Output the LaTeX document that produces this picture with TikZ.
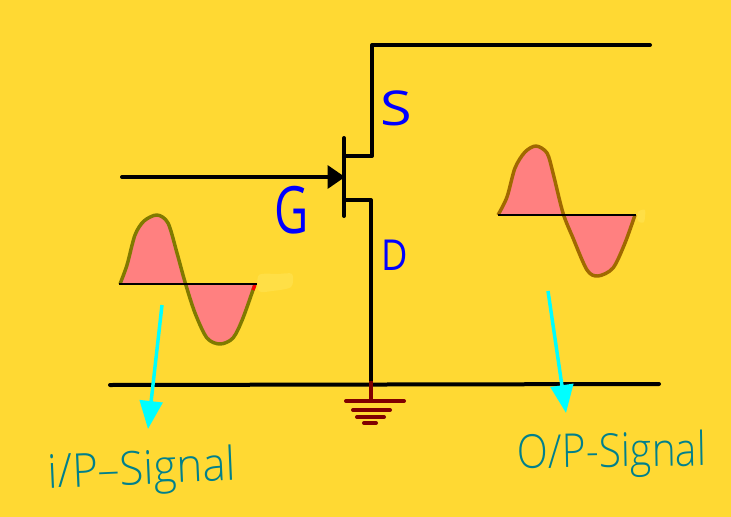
\documentclass[tikz,border=0pt]{standalone}
\usepackage{fontspec}
\usetikzlibrary{arrows.meta}
\setmainfont{Open Sans}
\newfontfamily\handfont{Open Sans Light}
\definecolor{bgyellow}{RGB}{255,217,51}
\definecolor{lobepink}{RGB}{255,128,128}
\definecolor{waveolive}{RGB}{128,122,0}
\definecolor{wavebrown}{RGB}{160,105,0}
\definecolor{gndred}{RGB}{128,0,0}
\definecolor{labelteal}{RGB}{0,128,140}
\definecolor{smudge}{RGB}{255,223,70}
\definecolor{pointercyan}{RGB}{0,255,255}
\definecolor{pinblue}{RGB}{0,0,255}
\definecolor{tipred}{RGB}{255,0,0}
\tikzset{
  wire/.style={line width=3pt, line cap=round, line join=round},
  gndbar/.style={gndred, line width=3pt, line cap=round},
  pointer/.style={pointercyan, line width=2.6pt, -{Triangle[length=21pt, width=17pt]}},
  lobe/.style={fill=lobepink, line width=2.6pt, line join=round},
  baseline/.style={line width=1.6pt},
  pin/.style={pinblue, font=\fontsize{36}{36}\selectfont, transform shape},
  siglabel/.style={labelteal, font=\handfont\fontsize{35}{35}\selectfont, transform shape}
}
\begin{document}
\begin{tikzpicture}[x=0.75pt, y=-0.75pt]
  \useasboundingbox (0,0) rectangle (731,517);
  \fill[bgyellow] (0,0) rectangle (731,517);

  \coordinate (railtop) at (650,45);
  \coordinate (srctop) at (372,45);
  \coordinate (srcbend) at (372,156);
  \coordinate (srcgate) at (344,156);
  \coordinate (chantop) at (344,138);
  \coordinate (chanbot) at (344,216);
  \coordinate (drngate) at (344,200);
  \coordinate (drnbend) at (371,200);
  \coordinate (drnbot) at (371,384);
  \coordinate (gatein) at (122,177);
  \coordinate (gatetip) at (345,177);
  \coordinate (railleft) at (110,385);
  \coordinate (railright) at (659,384);

  \draw[wire] (railtop) -- (srctop) -- (srcbend) -- (srcgate);
  \draw[wire] (chantop) -- (chanbot);
  \draw[wire] (drngate) -- (drnbend) -- (drnbot);
  \draw[wire, -{Triangle[length=13pt, width=17pt]}] (gatein) -- (gatetip);
  \draw[wire] (railleft) -- (railright);

  % ground
  \coordinate (gndtop) at (371,381);
  \coordinate (gndbot) at (371,401);
  \draw[gndred, line width=3pt] (gndtop) -- (gndbot);
  \draw[gndbar] (346,401) -- (404,401);
  \draw[gndbar] (353,410) -- (390,410);
  \draw[gndbar] (357,417) -- (384,417);
  \draw[gndbar] (364,423) -- (376,423);

  \node[pin, xscale=1.2] (s) at (396,108) {S};
  \node[pin, xscale=.72, font=\fontsize{49}{49}\selectfont] (g) at (292,210) {G};
  \node[pin, xscale=.85, font=\fontsize{32}{32}\selectfont] (d) at (395,255) {D};

  % input wave
  \fill[smudge] plot[smooth cycle] coordinates {(259,275) (278,274) (292,274) (291,287) (272,291) (259,291)};
  \draw[waveolive, lobe] plot[smooth] coordinates {(120,284) (127,265) (135,235) (144,221) (157,215) (168,223) (177,253) (185,282) (195,313) (207,338) (220,344) (233,338) (243,318) (255,284)};
  \draw[tipred, line width=2.4pt] (253,290) -- (255,285);
  \coordinate (inleft) at (119,284);
  \coordinate (inright) at (257,284);
  \draw[baseline] (inleft) -- (inright);

  % output wave
  \fill[smudge] plot[smooth cycle] coordinates {(638,212) (645,210) (644,222) (638,221)};
  \draw[wavebrown, lobe] plot[smooth] coordinates {(498,215) (507,197) (515,168) (525,152) (536,146) (547,153) (553,173) (563,213) (573,238) (587,270) (598,276) (613,268) (625,243) (635,215)};
  \coordinate (outleft) at (498,215);
  \coordinate (outright) at (636,215);
  \draw[baseline] (outleft) -- (outright);

  \node[siglabel, rotate=2.5, xscale=.94] (ipsig) at (142,472) {i/P–Signal};
  \node[siglabel, rotate=1, xscale=.87] (opsig) at (612,455) {O/P-Signal};

  \coordinate (inarrow) at (162,305);
  \coordinate (inhead) at (148,429);
  \coordinate (outarrow) at (548,291);
  \coordinate (outhead) at (566,413);
  \draw[pointer] (inarrow) -- (inhead);
  \draw[pointer] (outarrow) -- (outhead);
\end{tikzpicture}
\end{document}
